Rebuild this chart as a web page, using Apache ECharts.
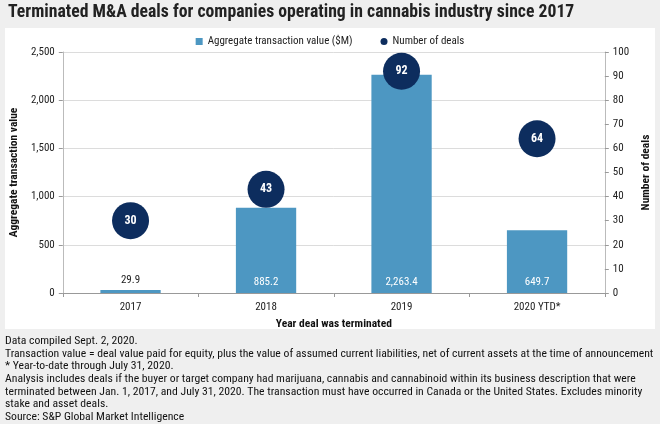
<!DOCTYPE html>
<html><head><meta charset="utf-8">
<script src="https://cdn.jsdelivr.net/npm/echarts@6/dist/echarts.min.js"></script>
<style>html,body{margin:0;padding:0;background:#efefef;}#c{width:660px;height:424px;}</style>
</head><body><div id="c"></div>
<script>
const categories = ['2017', '2018', '2019', '2020 YTD*'];
const aggregateValue = [29.9, 885.2, 2263.4, 649.7];
const numberOfDeals = [30, 43, 92, 64];
const leftTicks = [0, 500, 1000, 1500, 2000, 2500];
const rightTicks = [0, 10, 20, 30, 40, 50, 60, 70, 80, 90, 100];
const footnotes = [
  'Data compiled Sept. 2, 2020.',
  'Transaction value = deal value paid for equity, plus the value of assumed current liabilities, net of current assets at the time of announcement',
  '* Year-to-date through July 31, 2020.',
  'Analysis includes deals if the buyer or target company had marijuana, cannabis and cannabinoid within its business description that were',
  'terminated between Jan. 1, 2017, and July 31, 2020. The transaction must have occurred in Canada or the United States. Excludes minority',
  'stake and asset deals.',
  'Source: S&P Global Market Intelligence'
];
const FONT = '"Liberation Sans Narrow", "Roboto Condensed", Roboto, sans-serif';
const chart = echarts.init(document.getElementById('c'), null, {renderer: 'canvas'});
const barColor = '#4d97c2';
const dotColor = '#0d2d5e';
chart.setOption({
  backgroundColor: '#efefef',
  textStyle: {fontFamily: FONT},
  animation: false,
  graphic: [
    {type: 'rect', shape: {x: 5, y: 28, width: 650, height: 301}, style: {fill: '#ffffff'}, z: -10},
    {type: 'text', left: 8, top: 4, style: {text: 'Terminated M&A deals for companies operating in cannabis industry since 2017', font: 'bold 17.7px ' + FONT, fill: '#222'}},
    {type: 'text', left: 5, top: 335, style: {text: footnotes.join('\n'), font: '11.7px ' + FONT, lineHeight: 12.6, fill: '#111'}}
  ],
  legend: {
    top: 31, left: 'center',
    itemWidth: 7, itemHeight: 7, itemGap: 28,
    textStyle: {fontFamily: FONT, fontSize: 11, color: '#222'},
    data: [
      {name: 'Aggregate transaction value ($M)', icon: 'rect'},
      {name: 'Number of deals', icon: 'circle', itemStyle: {color: dotColor, opacity: 1}}
    ]
  },
  grid: {left: 59, right: 44, top: 52, bottom: 131},
  xAxis: {
    type: 'category', data: categories,
    axisLine: {lineStyle: {color: '#999'}},
    axisTick: {show: true, alignWithLabel: false, length: 4, lineStyle: {color: '#999'}},
    axisLabel: {color: '#222', fontSize: 11, margin: 9, fontFamily: FONT},
    name: 'Year deal was terminated', nameLocation: 'middle', nameGap: 23,
    nameTextStyle: {color: '#111', fontSize: 11.5, fontWeight: 'bold', fontFamily: FONT}
  },
  yAxis: [
    {
      type: 'value', min: 0, max: 2500, interval: 500,
      axisLine: {show: true, lineStyle: {color: '#bbb'}},
      axisTick: {show: true, length: 4, lineStyle: {color: '#999'}},
      splitLine: {lineStyle: {color: '#dcdcdc'}},
      axisLabel: {color: '#222', fontSize: 11, margin: 8, fontFamily: FONT,
        formatter: v => v.toLocaleString('en-US')},
      name: 'Aggregate transaction value', nameLocation: 'middle', nameGap: 42, nameRotate: 90,
      nameTextStyle: {color: '#111', fontSize: 11.5, fontWeight: 'bold', fontFamily: FONT}
    },
    {
      type: 'value', min: 0, max: 100, interval: 10,
      axisLine: {show: true, lineStyle: {color: '#bbb'}},
      axisTick: {show: true, length: 4, lineStyle: {color: '#999'}},
      splitLine: {show: false},
      axisLabel: {color: '#222', fontSize: 11, margin: 8, fontFamily: FONT},
      name: 'Number of deals', nameLocation: 'middle', nameGap: 33, nameRotate: 90,
      nameTextStyle: {color: '#111', fontSize: 11.5, fontWeight: 'bold', fontFamily: FONT}
    }
  ],
  series: [
    {
      name: 'Aggregate transaction value ($M)', type: 'bar', yAxisIndex: 0,
      barWidth: '44.5%', itemStyle: {color: barColor},
      data: aggregateValue.map((v, i) => ({
        value: v,
        label: i === 0 ? {position: 'top', color: '#222', distance: 4} : {position: 'insideBottom', color: '#fff', distance: 5}
      })),
      label: {show: true, fontSize: 11, fontFamily: FONT,
        formatter: p => p.value.toLocaleString('en-US', {minimumFractionDigits: 1, maximumFractionDigits: 1})}
    },
    {
      name: 'Number of deals', type: 'scatter', yAxisIndex: 1,
      symbol: 'circle', symbolSize: 37, itemStyle: {color: dotColor, opacity: 1},
      data: numberOfDeals,
      label: {show: true, position: 'inside', color: '#fff', fontWeight: 'bold', fontSize: 12, fontFamily: FONT},
      emphasis: {disabled: true},
      z: 5
    }
  ]
});
</script></body></html>
